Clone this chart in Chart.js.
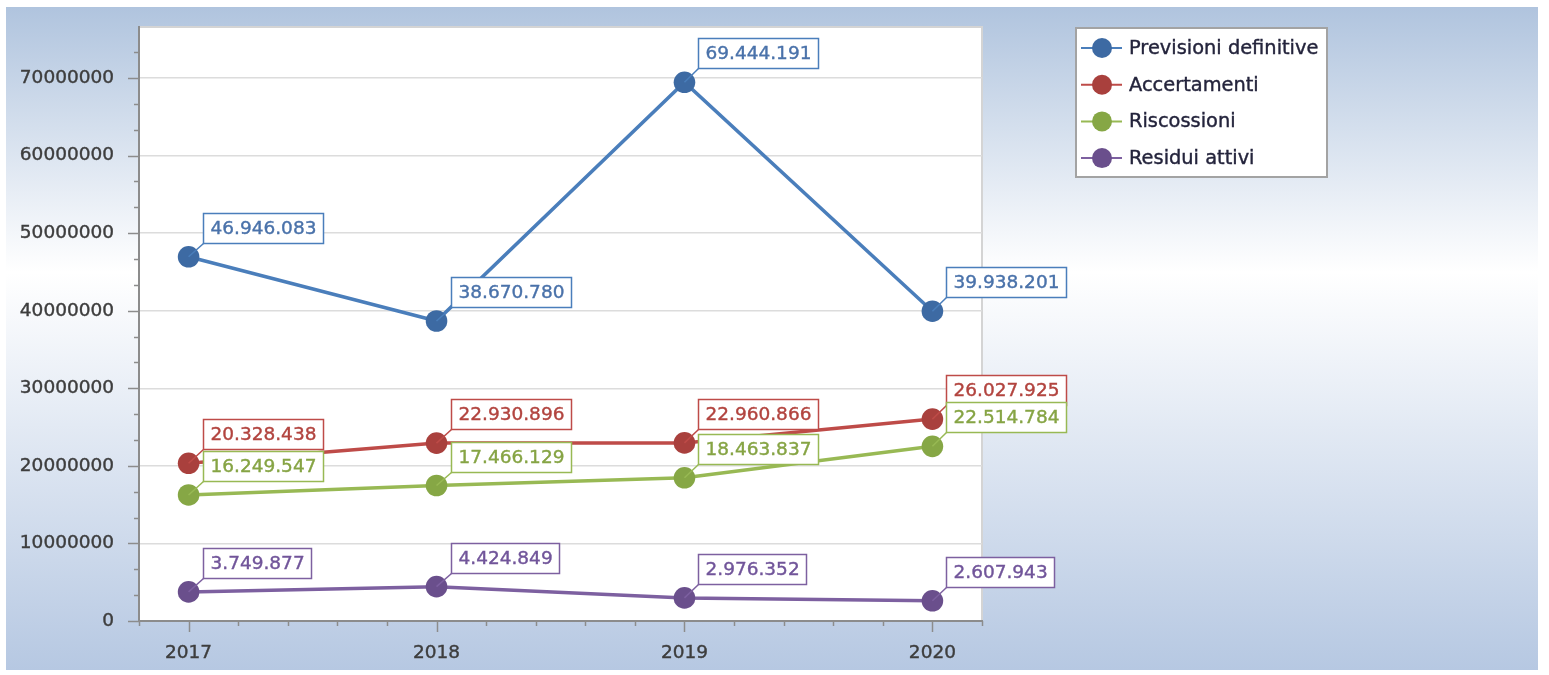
<!DOCTYPE html>
<html>
<head>
<meta charset="utf-8">
<script src="https://cdn.jsdelivr.net/npm/chart.js@4/dist/chart.umd.min.js"></script>
<style>
  html, body { margin: 0; padding: 0; background: #ffffff; }
  #wrap { position: relative; width: 1549px; height: 675px; overflow: hidden; }
  #bg { position: absolute; left: 6px; top: 7px; width: 1532px; height: 663px;
        background: linear-gradient(to bottom, #b0c4de 0%, #ffffff 40%, #b6c8e2 100%); }
  #c { position: absolute; left: 0; top: 0; }
</style>
</head>
<body>
<div id="wrap">
  <div id="bg"></div>
  <canvas id="c" width="1549" height="675"></canvas>
</div>
<script>
// ---- data ----
const categories = [2017, 2018, 2019, 2020];
const seriesNames = ['Previsioni definitive', 'Accertamenti', 'Riscossioni', 'Residui attivi'];
const previsioniDefinitive = [46946083, 38670780, 69444191, 39938201];
const accertamenti = [20328438, 22930896, 22960866, 26027925];
const riscossioni = [16249547, 17466129, 18463837, 22514784];
const residuiAttivi = [3749877, 4424849, 2976352, 2607943];
const yTickValues = [0, 10000000, 20000000, 30000000, 40000000, 50000000, 60000000, 70000000];

// ---- styles ----
const lineColors = ['#4a7ebb', '#be4b48', '#98b954', '#7d60a0'];
const pointColors = ['#3d6aa3', '#a9403d', '#86a745', '#6a4f8c'];
const labelTextColors = ['#4a72aa', '#b2443f', '#86a444', '#71559a'];
const FONT = '"DejaVu Sans", Verdana, sans-serif';

const allSeries = [previsioniDefinitive, accertamenti, riscossioni, residuiAttivi];

function fmt(v) { return String(v).replace(/\B(?=(\d{3})+(?!\d))/g, '.'); }

const datasets = allSeries.map((vals, i) => ({
  label: seriesNames[i],
  data: categories.map((c, j) => ({ x: c, y: vals[j] })),
  borderColor: lineColors[i],
  backgroundColor: pointColors[i],
  pointBackgroundColor: pointColors[i],
  pointBorderColor: pointColors[i],
  pointBorderWidth: 0,
  pointRadius: 10.8,
  pointHoverRadius: 10.8,
  borderWidth: 3.5,
  tension: 0,
  clip: false
}));

const plotBgPlugin = {
  id: 'plotBg',
  beforeDraw(chart) {
    const { ctx, chartArea: a } = chart;
    ctx.save();
    ctx.fillStyle = '#ffffff';
    ctx.fillRect(a.left, a.top, a.right - a.left, a.bottom - a.top);
    ctx.strokeStyle = '#d4d4d4';
    ctx.lineWidth = 2;
    ctx.beginPath();
    ctx.moveTo(a.left, a.top);
    ctx.lineTo(a.right, a.top);
    ctx.lineTo(a.right, a.bottom);
    ctx.stroke();
    ctx.restore();
  }
};

const minorTicksPlugin = {
  id: 'minorTicks',
  afterDraw(chart) {
    const { ctx, chartArea: a, scales } = chart;
    const ys = scales.y, xs = scales.x;
    ctx.save();
    ctx.strokeStyle = '#8c8c8c';
    ctx.lineWidth = 1.5;
    const yStep = 10000000 / 3;
    for (let k = 0; k * yStep <= ys.max + 1; k++) {
      const v = k * yStep;
      const py = Math.round(ys.getPixelForValue(v)) + 0.5;
      const len = (k % 3 === 0) ? 11 : 5;
      ctx.beginPath();
      ctx.moveTo(a.left - len, py);
      ctx.lineTo(a.left, py);
      ctx.stroke();
    }
    const xStep = 0.2;
    for (let k = 0; xs.min + k * xStep <= xs.max + 1e-6; k++) {
      const v = xs.min + k * xStep;
      const px = Math.round(xs.getPixelForValue(v)) + 0.5;
      const isMajor = Math.abs(v - Math.round(v)) < 1e-6;
      const len = isMajor ? 11 : 5;
      ctx.beginPath();
      ctx.moveTo(px, a.bottom);
      ctx.lineTo(px, a.bottom + len);
      ctx.stroke();
    }
    ctx.restore();
  }
};

const dataLabelPlugin = {
  id: 'dataLabels',
  afterDatasetsDraw(chart) {
    const { ctx } = chart;
    ctx.save();
    ctx.font = '18.5px ' + FONT;
    ctx.textBaseline = 'middle';
    ctx.textAlign = 'left';
    chart.data.datasets.forEach((ds, i) => {
      const meta = chart.getDatasetMeta(i);
      meta.data.forEach((pt, j) => {
        const txt = fmt(allSeries[i][j]);
        const w = Math.round(ctx.measureText(txt).width) + 14;
        const h = 30;
        const left = Math.round(pt.x + 14) + 0.5;
        const bottom = Math.round(pt.y - 14) + 0.5;
        ctx.strokeStyle = lineColors[i];
        ctx.lineWidth = 1.5;
        ctx.beginPath();
        ctx.moveTo(pt.x, pt.y);
        ctx.lineTo(left, bottom);
        ctx.stroke();
        ctx.fillStyle = '#ffffff';
        ctx.fillRect(left, bottom - h, w, h);
        ctx.strokeRect(left, bottom - h, w, h);
        ctx.fillStyle = labelTextColors[i];
        ctx.strokeStyle = labelTextColors[i];
        ctx.lineWidth = 0.4;
        ctx.fillText(txt, left + 7, bottom - h / 2 + 1);
        ctx.strokeText(txt, left + 7, bottom - h / 2 + 1);
      });
    });
    ctx.restore();
  }
};

const legendPlugin = {
  id: 'customLegend',
  afterDraw(chart) {
    const { ctx } = chart;
    const bx = 1076, by = 28, bw = 251, bh = 149;
    ctx.save();
    ctx.fillStyle = '#ffffff';
    ctx.fillRect(bx, by, bw, bh);
    ctx.strokeStyle = '#a3a3a3';
    ctx.lineWidth = 2;
    ctx.strokeRect(bx, by, bw, bh);
    ctx.font = '19.4px ' + FONT;
    ctx.textBaseline = 'middle';
    ctx.textAlign = 'left';
    seriesNames.forEach((name, i) => {
      const cy = 48 + i * 36.7;
      ctx.strokeStyle = lineColors[i];
      ctx.lineWidth = 2;
      ctx.beginPath();
      ctx.moveTo(1081, cy);
      ctx.lineTo(1122, cy);
      ctx.stroke();
      ctx.fillStyle = pointColors[i];
      ctx.beginPath();
      ctx.arc(1102, cy, 10, 0, Math.PI * 2);
      ctx.fill();
      ctx.fillStyle = '#24243c';
      ctx.strokeStyle = '#24243c';
      ctx.lineWidth = 0.4;
      ctx.fillText(name, 1129, cy + 1);
      ctx.strokeText(name, 1129, cy + 1);
    });
    ctx.restore();
  }
};

new Chart(document.getElementById('c'), {
  type: 'line',
  data: { datasets },
  plugins: [plotBgPlugin, minorTicksPlugin, dataLabelPlugin, legendPlugin],
  options: {
    responsive: false,
    animation: false,
    events: [],
    layout: { padding: { left: 0, top: 27, right: 1549 - 982, bottom: 0 } },
    plugins: { legend: { display: false }, tooltip: { enabled: false } },
    scales: {
      x: {
        type: 'linear',
        min: 2016.8,
        max: 2020.2,
        afterBuildTicks(scale) { scale.ticks = categories.map(v => ({ value: v })); },
        afterFit(scale) { scale.height = 675 - 621; scale.paddingLeft = 0; scale.paddingRight = 0; },
        grid: { display: false, drawTicks: false },
        border: { display: true, color: '#8c8c8c', width: 2 },
        ticks: {
          callback: v => String(v),
          color: '#3d3d3d',
          textStrokeColor: '#3d3d3d',
          textStrokeWidth: 0.4,
          font: { family: FONT, size: 18.5 },
          padding: 21,
          maxRotation: 0
        }
      },
      y: {
        type: 'linear',
        min: 0,
        max: 76570000,
        afterBuildTicks(scale) { scale.ticks = yTickValues.map(v => ({ value: v })); },
        afterFit(scale) { scale.width = 139; scale.paddingTop = 0; scale.paddingBottom = 0; },
        grid: {
          drawTicks: false,
          color: ctx => (ctx.tick && ctx.tick.value === 0) ? 'rgba(0,0,0,0)' : '#dcdcdc',
          lineWidth: 1.5
        },
        border: { display: true, color: '#8c8c8c', width: 2 },
        ticks: {
          callback: v => String(v),
          color: '#3d3d3d',
          textStrokeColor: '#3d3d3d',
          textStrokeWidth: 0.4,
          font: { family: FONT, size: 18.5 },
          padding: 25
        }
      }
    }
  }
});
</script>
</body>
</html>
